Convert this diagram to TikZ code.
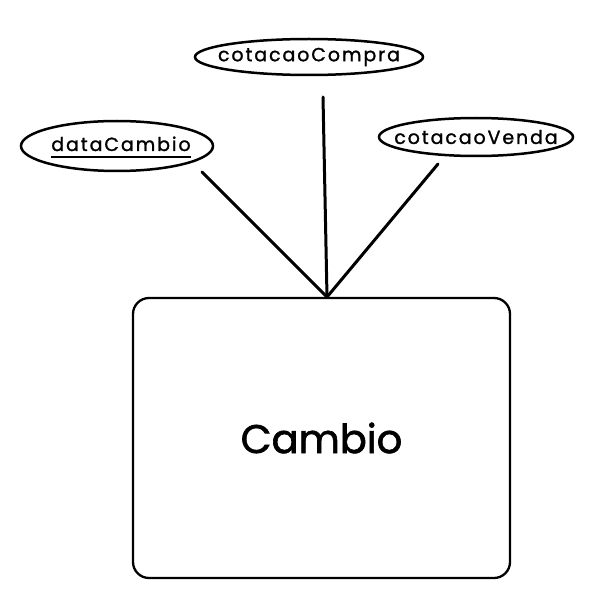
\documentclass[tikz,border=0pt]{standalone}
\usepackage{fontspec}
\setmainfont{Poppins}
\newfontfamily\hand[LetterSpace=10,FakeBold=1.3]{Poppins}
\newfontfamily\handbig[FakeBold=1.6]{Poppins}
\usetikzlibrary{shapes.geometric}
\begin{document}
\begin{tikzpicture}[x=1pt,y=-1pt,
  attr/.style={draw, ellipse, line width=2.5pt, inner sep=0pt},
  attrtext/.style={inner sep=0pt, font=\hand\fontsize{19}{22}\selectfont},
  entitybox/.style={draw, rounded corners=16pt, line width=2.3pt, minimum width=377pt, minimum height=280pt, font=\handbig\fontsize{40}{48}\selectfont},
  link/.style={line width=3pt, line cap=round},
  keyline/.style={line width=2.4pt}]
\useasboundingbox (0,0) rectangle (615,604);
\node[entitybox] (cambio) at (321.5,438) {Cambio};
\node[attr, minimum width=192pt, minimum height=50pt] (data) at (117,146) {};
\node[attr, minimum width=228pt, minimum height=36pt] (compra) at (309,57) {};
\node[attr, minimum width=194pt, minimum height=38pt] (venda) at (476,137) {};
\node[attrtext, anchor=base] (datatxt) at (121,151) {dataCambio};
\node[attrtext] (compratxt) at (compra) {cotacaoCompra};
\node[attrtext] (vendatxt) at (venda) {cotacaoVenda};
\draw[keyline] ([yshift=-6pt]datatxt.base west) -- ([yshift=-6pt]datatxt.base east);
\coordinate (j) at (327,297);
\coordinate (dl) at (202,172);
\coordinate (cl) at (323,97);
\coordinate (vl) at (438,164);
\draw[link] (dl) -- (j);
\draw[link] (cl) -- (j);
\draw[link] (vl) -- (j);
\end{tikzpicture}
\end{document}
